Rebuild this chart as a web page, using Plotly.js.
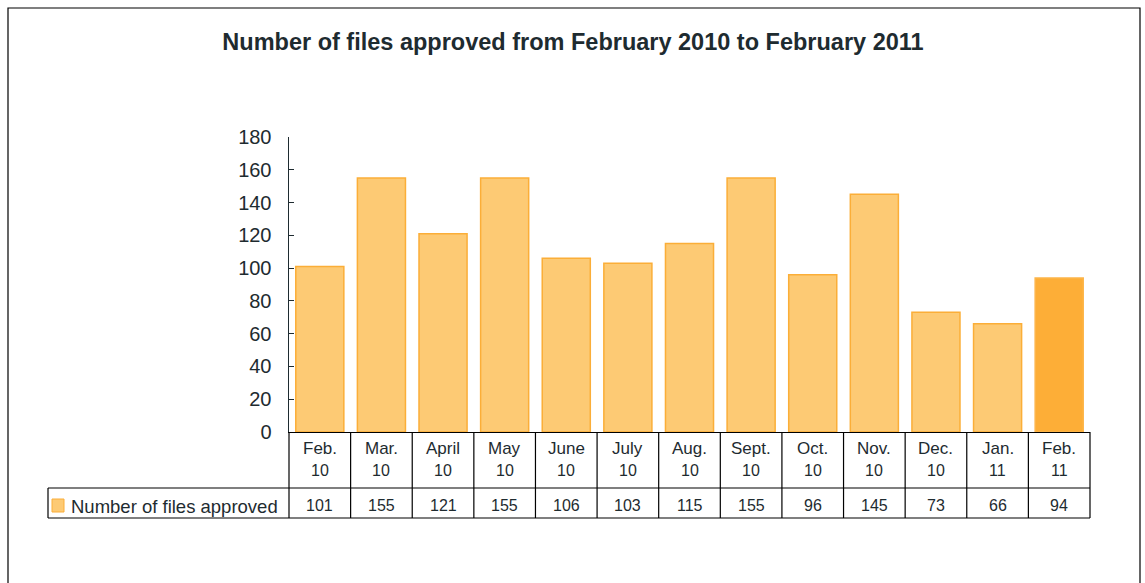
<!DOCTYPE html>
<html>
<head>
<meta charset="utf-8">
<script src="https://cdn.plot.ly/plotly-3.0.1.min.js"></script>
<style>html,body{margin:0;padding:0;background:#fff;}#chart{width:1145px;height:583px;}</style>
</head>
<body>
<div id="chart"></div>
<script>
var months = ["Feb.", "Mar.", "April", "May", "June", "July", "Aug.", "Sept.", "Oct.", "Nov.", "Dec.", "Jan.", "Feb."];
var years = ["10", "10", "10", "10", "10", "10", "10", "10", "10", "10", "10", "11", "11"];
var approved = [101, 155, 121, 155, 106, 103, 115, 155, 96, 145, 73, 66, 94];
var seriesName = "Number of files approved";
var titleText = "Number of files approved from February 2010 to February 2011";

var TXT = "#1e2b30";
var FILL = "#fdca74";
var EDGE = "#fbae38";
var FILL_LAST = "#fdae37";

var n = approved.length;
var xs = approved.map(function (_, i) { return i; });
var fills = approved.map(function (_, i) { return i === n - 1 ? FILL_LAST : FILL; });
var edges = approved.map(function (_, i) { return i === n - 1 ? "#fdb54a" : EDGE; });

var trace = {
  type: "bar",
  x: xs,
  y: approved,
  name: seriesName,
  marker: { color: fills, line: { color: edges, width: 1.5 } },
  hoverinfo: "y",
  showlegend: false
};

var plotH = 295;
var rowHeadBottom = -56 / plotH;
var rowValBottom = -86 / plotH;
var leftCell = -241 / 801;

var shapes = [];
var lineStyle = { color: "#000", width: 1.2 };
shapes.push({ type: "rect", xref: "paper", yref: "paper", x0: -281 / 801, x1: 851 / 801, y0: -0.6, y1: 424 / plotH, line: { color: "#000", width: 1.2 }, layer: "below" });
for (var i = 1; i < n; i++) {
  shapes.push({ type: "line", xref: "x", yref: "paper", x0: i - 0.5, x1: i - 0.5, y0: 0, y1: rowValBottom, line: lineStyle });
}
shapes.push({ type: "line", xref: "paper", yref: "paper", x0: 0, x1: 0, y0: 0, y1: rowValBottom, line: lineStyle });
shapes.push({ type: "line", xref: "paper", yref: "paper", x0: 1, x1: 1, y0: 0, y1: rowValBottom, line: lineStyle });
shapes.push({ type: "line", xref: "paper", yref: "paper", x0: leftCell, x1: leftCell, y0: rowHeadBottom, y1: rowValBottom, line: lineStyle });
shapes.push({ type: "line", xref: "paper", yref: "paper", x0: leftCell, x1: 1, y0: rowHeadBottom, y1: rowHeadBottom, line: lineStyle });
shapes.push({ type: "line", xref: "paper", yref: "paper", x0: leftCell, x1: 1, y0: rowValBottom, y1: rowValBottom, line: lineStyle });
shapes.push({ type: "rect", xref: "paper", yref: "paper", x0: (52 - 289) / 801, x1: (64 - 289) / 801, y0: -(80 / plotH), y1: -(67 / plotH), fillcolor: FILL, line: { color: EDGE, width: 1 } });

var annotations = [];
for (var j = 0; j < n; j++) {
  annotations.push({ x: j, xref: "x", y: -16 / plotH, yref: "paper", text: months[j], showarrow: false, yanchor: "middle", xanchor: "center", font: { size: 17, color: TXT } });
  annotations.push({ x: j, xref: "x", y: -38 / plotH, yref: "paper", text: years[j], showarrow: false, yanchor: "middle", xanchor: "center", font: { size: 16, color: TXT } });
  annotations.push({ x: j, xref: "x", y: -73 / plotH, yref: "paper", text: String(approved[j]), showarrow: false, yanchor: "middle", xanchor: "center", font: { size: 16, color: TXT } });
}
annotations.push({ x: (69 - 289) / 801, xref: "paper", y: -74 / plotH, yref: "paper", text: seriesName, showarrow: false, xanchor: "left", yanchor: "middle", font: { size: 18.5, color: TXT } });

var layout = {
  width: 1145,
  height: 583,
  margin: { l: 289, r: 55, t: 137, b: 151 },
  paper_bgcolor: "#fff",
  plot_bgcolor: "#fff",
  font: { family: "Liberation Sans, Arial, sans-serif", color: TXT },
  title: { text: "<b>" + titleText + "</b>", x: 573 / 1145, xref: "container", xanchor: "center", y: 1 - 42 / 583, yref: "container", yanchor: "middle", font: { size: 23.5, color: TXT } },
  bargap: 0.22,
  xaxis: { range: [-0.5, n - 0.5], showticklabels: false, ticks: "", showgrid: false, zeroline: false, showline: true, linecolor: "#000", linewidth: 1.2, fixedrange: true },
  yaxis: { range: [0, 180], dtick: 20, tick0: 0, ticks: "inside", ticklen: 5, tickcolor: TXT, tickwidth: 1.2, showgrid: false, zeroline: false, showline: true, linecolor: TXT, linewidth: 1.5, tickfont: { size: 20, color: TXT }, ticklabelstandoff: 12, fixedrange: true },
  shapes: shapes,
  annotations: annotations
};

Plotly.newPlot("chart", [trace], layout, { displayModeBar: false, staticPlot: true });
</script>
</body>
</html>
